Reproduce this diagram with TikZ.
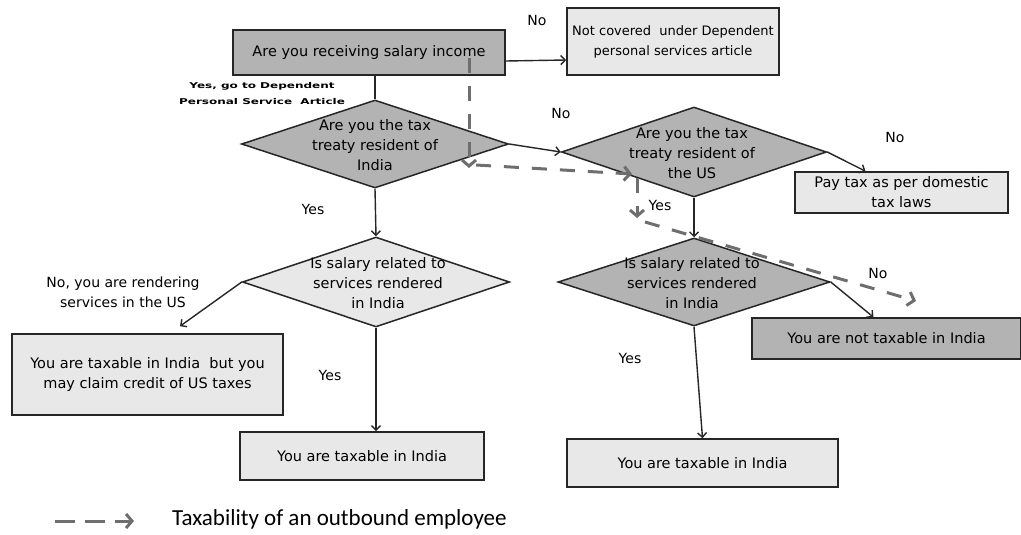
\documentclass[tikz,border=0pt]{standalone}
\usepackage{fontspec}
\setmainfont{DejaVu Sans}
\newfontfamily\legendfont{Carlito}
\usetikzlibrary{arrows.meta,shapes.geometric}
\definecolor{qdark}{HTML}{B3B3B3}
\definecolor{qlight}{HTML}{E8E8E8}
\definecolor{trail}{HTML}{6E6E6E}
\begin{document}
\begin{tikzpicture}[x=1pt,y=-1pt,
  box/.style={draw=black!85, line width=1.6pt, rectangle, inner sep=0pt, align=center,
    font=\fontsize{14.5}{20}\selectfont},
  darkbox/.style={box, fill=qdark},
  lightbox/.style={box, fill=qlight},
  decision/.style={draw=black!85, line width=1.5pt, diamond, inner sep=0pt},
  qtext/.style={align=center, inner sep=0pt, font=\fontsize{14.5}{20}\selectfont},
  note/.style={align=center, inner sep=0pt, font=\fontsize{14}{20}\selectfont},
  tiny/.style={align=center, inner sep=0pt, font=\fontsize{8}{16}\bfseries},
  flow/.style={draw=black!85, line width=1.4pt, -{Straight Barb[length=4.5pt,width=9pt]}},
  trailarrow/.style={draw=trail, line width=3pt, dash pattern=on 15pt off 13pt,
    -{Straight Barb[length=6pt,width=14pt]}},
]
\useasboundingbox (0,0) rectangle (1021,535);

% boxes
\node[darkbox, minimum width=272pt, minimum height=45pt] (b1) at (369,52.5) {Are you receiving salary income};
\node[lightbox, minimum width=212pt, minimum height=67pt, font=\fontsize{13}{20}\selectfont] (nc) at (673,41.5) {Not covered\ \ under Dependent\\personal services article};
\node[lightbox, minimum width=213pt, minimum height=41pt] (pt) at (901.5,192.5) {Pay tax as per domestic\\tax laws};
\node[lightbox, minimum width=271pt, minimum height=81pt] (lb) at (147.5,374.5) {You\ are taxable in India\ \ but you\\may claim credit of US taxes};
\node[lightbox, minimum width=244pt, minimum height=48pt] (bl) at (362,456) {You\ are taxable in India};
\node[lightbox, minimum width=271pt, minimum height=48pt] (br) at (702.5,463) {You\ are taxable in India};
\node[darkbox, minimum width=269pt, minimum height=41pt] (nt) at (886.5,338.5) {You\ are not taxable in India};

% decisions
\node[decision, fill=qdark, minimum width=267pt, minimum height=88pt] (d1) at (375,144) {};
\node[decision, fill=qdark, minimum width=265pt, minimum height=90pt] (d2) at (694,152) {};
\node[decision, fill=qlight, minimum width=267pt, minimum height=90pt] (d3) at (376,282) {};
\node[decision, fill=qdark, minimum width=272pt, minimum height=88pt] (d4) at (694,282) {};
\node[qtext] (d1t) at (375,145) {Are you the tax\\treaty resident of\\India};
\node[qtext] (d2t) at (692,153) {Are you the tax\\treaty resident of\\the US};
\node[qtext] (d3t) at (378,283) {Is salary related to\\services rendered\\in India};
\node[qtext] (d4t) at (692,283) {Is salary related to\\services rendered\\in India};

% branch labels
\node[note] (n1) at (537,20) {No};
\node[tiny] (n2) at (262,94) {\scalebox{1.5}[1]{Yes, go to Dependent}\\\scalebox{1.5}[1]{Personal Service\ \ Article}};
\node[note] (n3) at (561,113) {No};
\node[note] (n4) at (895,137) {No};
\node[note] (n5) at (313,209) {Yes};
\node[note] (n6) at (660,205) {Yes};
\node[note] (n7) at (123,292) {No, you are rendering\\services in the US};
\node[note] (n8) at (330,375) {Yes};
\node[note] (n9) at (878,273) {No};
\node[note] (n10) at (630,358) {Yes};

% connectors
\draw[draw=black!85, line width=1.4pt] (d1.north |- b1.south) -- (d1.north);
\draw[flow] ([yshift=-8.5pt]b1.east) -- ([yshift=-18.5pt]nc.west);
\draw[flow] (d1.east) -- (d2.west);
\draw[flow] (d2.east) -- ([xshift=-36pt]pt.north);
\draw[flow] (d1.south) -- (d3.north);
\draw[flow] (d3.west) -- ([xshift=32.5pt,yshift=7pt]lb.north);
\draw[flow] (d3.south) -- (d3.south |- bl.north);
\draw[flow] (d2.south) -- (d4.north);
\draw[flow] (d4.east) -- ([xshift=-13pt]nt.north);
\draw[flow] (d4.south) -- (br.north);

% outbound employee trail
\coordinate (t0) at (469,58);
\coordinate (t1) at (469,168);
\coordinate (t2) at (476,165);
\coordinate (t3) at (632,174);
\coordinate (t4) at (637,178);
\coordinate (t5) at (637,218);
\coordinate (t6) at (645,222);
\coordinate (t7) at (916,301);
\draw[trailarrow] (t0) -- (t1);
\draw[trailarrow] (t2) -- (t3);
\draw[trailarrow] (t4) -- (t5);
\draw[trailarrow] (t6) -- (t7);

% legend
\coordinate (lg0) at (55,521);
\coordinate (lg1) at (134,521);
\draw[trailarrow, dash pattern=on 20pt off 10pt] (lg0) -- (lg1);
\node[anchor=west, inner sep=0pt, font=\legendfont\fontsize{23}{26}\selectfont] (legend) at (172,519) {Taxability of an outbound employee};
\end{tikzpicture}
\end{document}
